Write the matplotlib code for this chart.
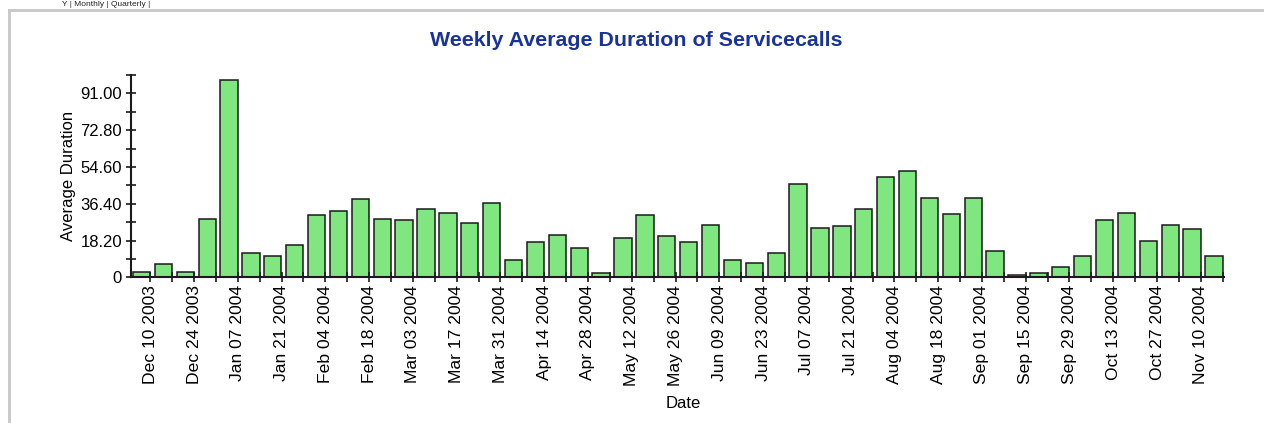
import matplotlib
matplotlib.use("Agg")
import matplotlib.pyplot as plt
from matplotlib.lines import Line2D
import numpy as np

# weekly data, Dec 10 2003 .. Nov 17 2004 (50 weeks)
weeks = ["Dec 10 2003", "Dec 17 2003", "Dec 24 2003", "Dec 31 2003",
         "Jan 07 2004", "Jan 14 2004", "Jan 21 2004", "Jan 28 2004",
         "Feb 04 2004", "Feb 11 2004", "Feb 18 2004", "Feb 25 2004",
         "Mar 03 2004", "Mar 10 2004", "Mar 17 2004", "Mar 24 2004",
         "Mar 31 2004", "Apr 07 2004", "Apr 14 2004", "Apr 21 2004",
         "Apr 28 2004", "May 05 2004", "May 12 2004", "May 19 2004",
         "May 26 2004", "Jun 02 2004", "Jun 09 2004", "Jun 16 2004",
         "Jun 23 2004", "Jun 30 2004", "Jul 07 2004", "Jul 14 2004",
         "Jul 21 2004", "Jul 28 2004", "Aug 04 2004", "Aug 11 2004",
         "Aug 18 2004", "Aug 25 2004", "Sep 01 2004", "Sep 08 2004",
         "Sep 15 2004", "Sep 22 2004", "Sep 29 2004", "Oct 06 2004",
         "Oct 13 2004", "Oct 20 2004", "Oct 27 2004", "Nov 03 2004",
         "Nov 10 2004", "Nov 17 2004"]
avg_duration = [2.8, 6.6, 2.8, 28.9, 97.6, 12.2, 10.7, 15.9,
                30.9, 32.6, 38.9, 28.9, 28.2, 34.0, 31.8, 26.8,
                36.7, 8.6, 17.4, 21.0, 14.4, 2.0, 19.3, 30.9,
                20.2, 17.4, 26.0, 8.6, 7.1, 12.2, 46.3, 24.3,
                25.5, 33.9, 49.8, 52.8, 39.0, 31.1, 39.0, 13.1,
                1.3, 2.1, 5.0, 10.7, 28.3, 31.8, 18.0, 26.1,
                24.0, 10.7]
y_ticks = [0, 18.2, 36.4, 54.6, 72.8, 91.0]
y_ticklabels = ["0", "18.20", "36.40", "54.60", "72.80", "91.00"]

plt.rcParams['font.family'] = ['Liberation Sans', 'DejaVu Sans']

fig = plt.figure(figsize=(12.64, 4.23), dpi=100)
W, H = 1264, 423

# page frame and the tab strip at the very top
fig.add_artist(Line2D([9 / W, 1], [1 - 10 / H, 1 - 10 / H], color='#c8c8c8', lw=2))
fig.add_artist(Line2D([9 / W, 9 / W], [0, 1 - 10 / H], color='#c8c8c8', lw=2))
fig.text(62 / W, 1 - 1 / H, "Y | Monthly | Quarterly |", fontsize=6, va='top', color='#222222')

ax = fig.add_axes([131 / W, 1 - 277.3 / H, (1224 - 131) / W, (277.3 - 75) / H])

x = np.arange(len(avg_duration))
ax.bar(x, avg_duration, width=0.79, color='#80e680', edgecolor='#1a1a1a', linewidth=1.1)

ax.set_xlim(-0.48, len(avg_duration) - 0.54)
ax.set_ylim(0, 100.1)

# one tick per week at the bar's right edge, label every second week
ax.set_xticks(x + 0.4)
ax.set_xticklabels([w if i % 2 == 0 else "" for i, w in enumerate(weeks)], rotation=90, fontsize=12.6)
ax.set_yticks(y_ticks)
ax.set_yticklabels(y_ticklabels, fontsize=12)
ax.set_yticks(np.arange(0, 101, 9.1), minor=True)
ax.tick_params(axis='both', which='both', direction='inout', length=7, width=1.2, color='#1a1a1a')
ax.tick_params(axis='y', which='major', pad=3)
ax.tick_params(axis='x', which='major', pad=2)

for side in ['top', 'right']:
    ax.spines[side].set_visible(False)
for side in ['left', 'bottom']:
    ax.spines[side].set_linewidth(1.5)
    ax.spines[side].set_color('#1a1a1a')

ax.set_ylabel("Average Duration", fontsize=12, labelpad=3)
fig.text(683 / W, 1 - 403 / H, "Date", fontsize=12, ha='center', va='center')
fig.text(636 / W, 1 - 40 / H, "Weekly Average Duration of Servicecalls", fontsize=15.4,
         fontweight='bold', color='#1a3399', ha='center', va='center')

plt.savefig("out.png", dpi=100)
